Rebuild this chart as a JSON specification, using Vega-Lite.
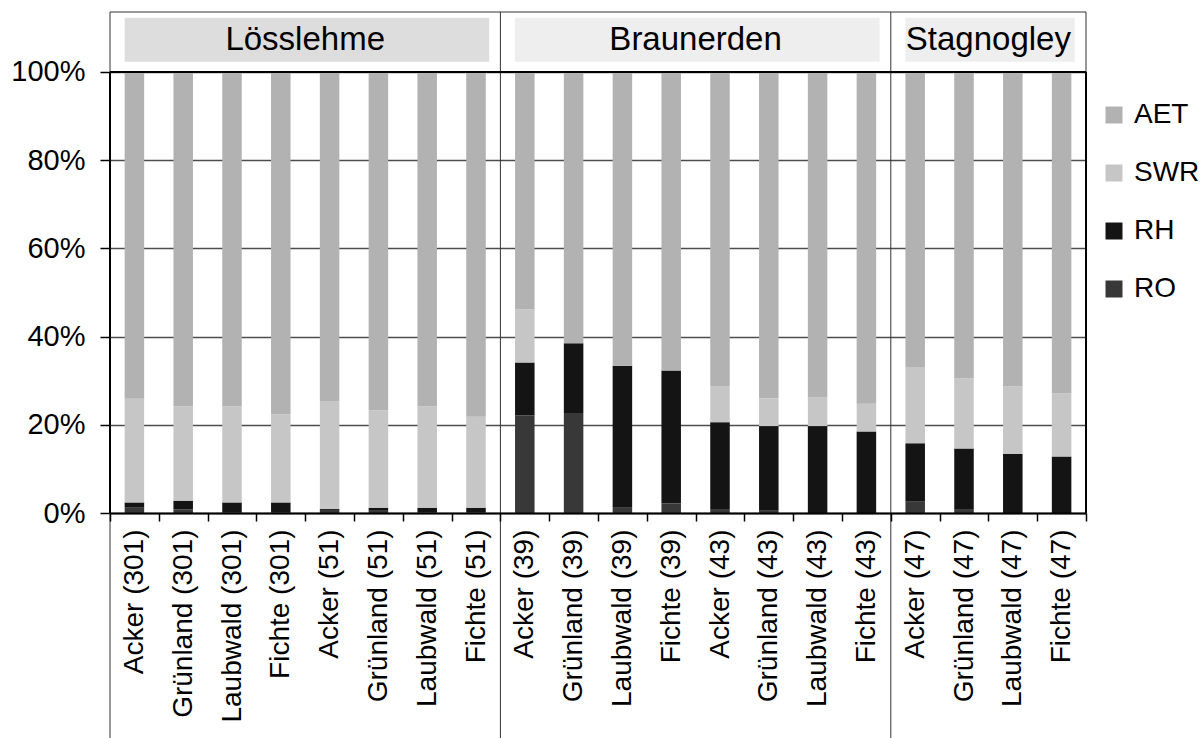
{
  "$schema": "https://vega.github.io/schema/vega-lite/v6.json",
  "width": 976,
  "height": 501,
  "autosize": {"type": "none"},
  "padding": {"left": 110, "top": 12, "right": 115, "bottom": 225},
  "background": "white",
  "config": {"view": {"stroke": null}, "font": "Liberation Sans"},
  "datasets": {
    "bars": [
      {"label": "Acker (301)", "RO": 1.2, "RH": 1.2, "SWR": 23.5, "AET": 74.1},
      {"label": "Grünland (301)", "RO": 0.8, "RH": 2.0, "SWR": 21.4, "AET": 75.8},
      {"label": "Laubwald (301)", "RO": 0.2, "RH": 2.2, "SWR": 21.8, "AET": 75.8},
      {"label": "Fichte (301)", "RO": 0.2, "RH": 2.2, "SWR": 20.0, "AET": 77.6},
      {"label": "Acker (51)", "RO": 0.7, "RH": 0.2, "SWR": 24.5, "AET": 74.6},
      {"label": "Grünland (51)", "RO": 0.5, "RH": 0.7, "SWR": 22.1, "AET": 76.7},
      {"label": "Laubwald (51)", "RO": 0.1, "RH": 1.1, "SWR": 23.0, "AET": 75.8},
      {"label": "Fichte (51)", "RO": 0.1, "RH": 1.1, "SWR": 20.6, "AET": 78.2},
      {"label": "Acker (39)", "RO": 22.1, "RH": 12.0, "SWR": 12.1, "AET": 53.8},
      {"label": "Grünland (39)", "RO": 22.7, "RH": 15.8, "SWR": 0, "AET": 61.5},
      {"label": "Laubwald (39)", "RO": 1.2, "RH": 32.2, "SWR": 0, "AET": 66.6},
      {"label": "Fichte (39)", "RO": 2.2, "RH": 30.1, "SWR": 0, "AET": 67.7},
      {"label": "Acker (43)", "RO": 0.9, "RH": 19.7, "SWR": 8.1, "AET": 71.3},
      {"label": "Grünland (43)", "RO": 0.5, "RH": 19.2, "SWR": 6.3, "AET": 74.0},
      {"label": "Laubwald (43)", "RO": 0, "RH": 19.7, "SWR": 6.6, "AET": 73.7},
      {"label": "Fichte (43)", "RO": 0, "RH": 18.5, "SWR": 6.3, "AET": 75.2},
      {"label": "Acker (47)", "RO": 2.7, "RH": 13.1, "SWR": 17.3, "AET": 66.9},
      {"label": "Grünland (47)", "RO": 0.9, "RH": 13.7, "SWR": 15.9, "AET": 69.5},
      {"label": "Laubwald (47)", "RO": 0, "RH": 13.4, "SWR": 15.3, "AET": 71.3},
      {"label": "Fichte (47)", "RO": 0, "RH": 12.8, "SWR": 14.3, "AET": 72.9}
    ],
    "groups": [
      {"group": "Lösslehme", "first": "Acker (301)", "last": "Fichte (51)", "mid": "Acker (51)"},
      {"group": "Braunerden", "first": "Acker (39)", "last": "Fichte (43)", "mid": "Acker (43)"},
      {"group": "Stagnogley", "first": "Acker (47)", "last": "Fichte (47)", "mid": "Laubwald (47)"}
    ]
  },
  "resolve": {"scale": {"x": "shared", "y": "shared"}},
  "layer": [
    {
      "data": {"name": "groups"},
      "mark": {"type": "rect"},
      "encoding": {
        "x": {"field": "first", "type": "nominal", "bandPosition": 0.3,
              "scale": {"domain": ["Acker (301)", "Grünland (301)", "Laubwald (301)", "Fichte (301)", "Acker (51)", "Grünland (51)", "Laubwald (51)", "Fichte (51)", "Acker (39)", "Grünland (39)", "Laubwald (39)", "Fichte (39)", "Acker (43)", "Grünland (43)", "Laubwald (43)", "Fichte (43)", "Acker (47)", "Grünland (47)", "Laubwald (47)", "Fichte (47)"], "paddingInner": 0, "paddingOuter": 0}},
        "x2": {"field": "last", "bandPosition": 0.77},
        "y": {"datum": 102.3, "type": "quantitative"},
        "y2": {"datum": 112.3},
        "fill": {"field": "group", "type": "nominal", "legend": null,
                 "scale": {"domain": ["Lösslehme", "Braunerden", "Stagnogley"], "range": ["#dddddd", "#eeeeee", "#eeeeee"]}}
      }
    },
    {
      "data": {"name": "groups"},
      "mark": {"type": "text", "fontSize": 33, "font": "Liberation Sans", "color": "#000000", "baseline": "middle", "align": "center"},
      "encoding": {
        "x": {"field": "mid", "type": "nominal", "bandPosition": 0},
        "y": {"datum": 107.3, "type": "quantitative"},
        "text": {"field": "group"}
      }
    },
    {
      "data": {"name": "bars"},
      "transform": [
        {"fold": ["RO", "RH", "SWR", "AET"], "as": ["component", "value"]},
        {"calculate": "indexof(['RO', 'RH', 'SWR', 'AET'], datum.component)", "as": "stackOrder"}
      ],
      "mark": {"type": "bar", "width": {"band": 0.4}},
      "encoding": {
        "x": {"field": "label", "type": "nominal",
              "axis": {"title": null, "labelAngle": -90, "tickBand": "extent", "tickSize": 8, "tickColor": "#000000", "tickWidth": 1.5,
                       "domainColor": "#000000", "domainWidth": 2, "labelFontSize": 28, "labelPadding": 8, "labelColor": "#000000",
                       "labelFont": "Liberation Sans", "grid": false, "labelOverlap": false, "labelLimit": 400}},
        "y": {"field": "value", "type": "quantitative", "stack": "zero",
              "scale": {"domain": [0, 113.6], "nice": false, "zero": false},
              "axis": {"title": null, "values": [0, 20, 40, 60, 80, 100], "labelExpr": "datum.value + '%'", "domain": false,
                       "grid": true, "gridColor": "#4d4d4d", "gridWidth": 1.5, "tickColor": "#000000", "tickSize": 10, "tickWidth": 1.5,
                       "labelFontSize": 29, "labelPadding": 15, "labelColor": "#000000", "labelFont": "Liberation Sans"}},
        "color": {"field": "component", "type": "nominal",
                  "scale": {"domain": ["RO", "RH", "SWR", "AET"], "range": ["#383838", "#141414", "#c6c6c6", "#b2b2b2"]},
                  "legend": {"orient": "none", "legendX": 990, "legendY": 89, "title": null, "values": ["AET", "SWR", "RH", "RO"],
                             "symbolType": "square", "symbolSize": 289, "symbolStrokeWidth": 0, "labelFontSize": 28, "rowPadding": 30,
                             "labelOffset": 6, "labelFont": "Liberation Sans", "labelColor": "#000000", "padding": 0, "labelLimit": 200}},
        "order": {"field": "stackOrder", "type": "quantitative", "sort": "ascending"}
      }
    },
    {
      "data": {"name": "groups"},
      "mark": {"type": "rule", "color": "#333333", "strokeWidth": 1},
      "encoding": {
        "x": {"field": "first", "type": "nominal", "bandPosition": 0},
        "y": {"datum": -52, "type": "quantitative"},
        "y2": {"datum": 113.6}
      }
    },
    {
      "data": {"values": [{}]},
      "mark": {"type": "rule", "color": "#333333", "strokeWidth": 1},
      "encoding": {
        "x": {"datum": "Fichte (47)", "type": "nominal", "bandPosition": 1},
        "y": {"datum": 0, "type": "quantitative"},
        "y2": {"datum": 113.6}
      }
    },
    {
      "data": {"values": [{}]},
      "mark": {"type": "rule", "color": "#333333", "strokeWidth": 1},
      "encoding": {
        "y": {"datum": 113.6, "type": "quantitative"}
      }
    },
    {
      "data": {"values": [{}]},
      "mark": {"type": "rule", "color": "#000000", "strokeWidth": 2},
      "encoding": {
        "y": {"datum": 100, "type": "quantitative"}
      }
    },
    {
      "data": {"values": [{}]},
      "mark": {"type": "rule", "color": "#000000", "strokeWidth": 2},
      "encoding": {
        "x": {"datum": "Acker (301)", "type": "nominal", "bandPosition": 0},
        "y": {"datum": 0, "type": "quantitative"},
        "y2": {"datum": 100}
      }
    },
    {
      "data": {"values": [{}]},
      "mark": {"type": "rule", "color": "#000000", "strokeWidth": 2},
      "encoding": {
        "x": {"datum": "Fichte (47)", "type": "nominal", "bandPosition": 1},
        "y": {"datum": 0, "type": "quantitative"},
        "y2": {"datum": 100}
      }
    }
  ]
}
